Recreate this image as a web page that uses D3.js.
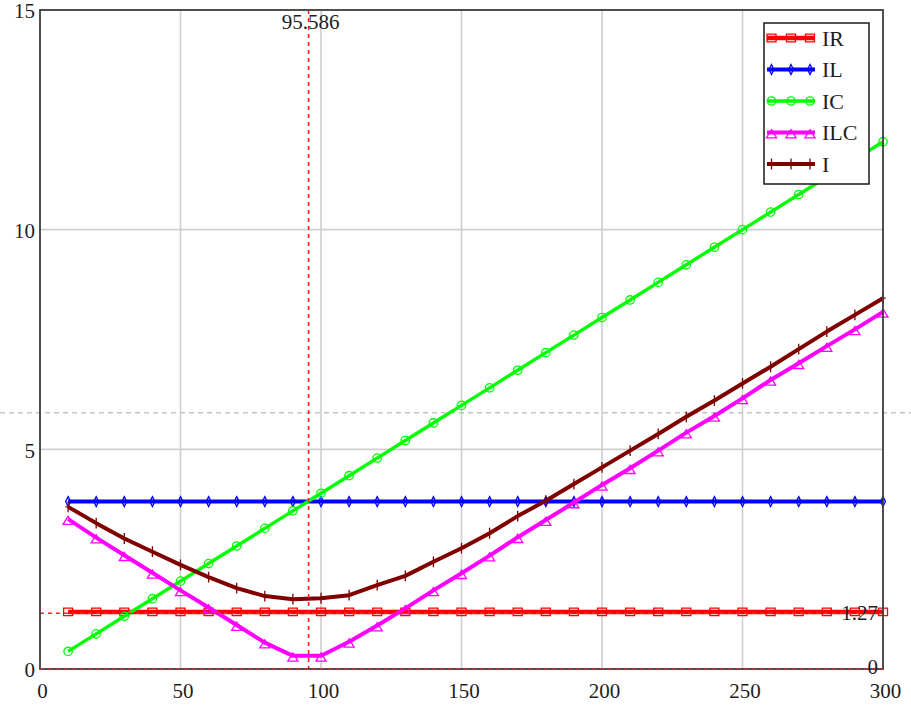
<!DOCTYPE html>
<html>
<head>
<meta charset="utf-8">
<script src="https://cdn.jsdelivr.net/npm/d3@7/dist/d3.min.js"></script>
<style>
  html, body { margin: 0; padding: 0; background: #fff; }
  svg { display: block; }
  text { font-family: "Liberation Serif", "Times New Roman", serif; fill: #1e1e1e; }
</style>
</head>
<body>
<svg id="chart" width="911" height="710"></svg>
<script>
// ---- data ----
const xValues = [10,20,30,40,50,60,70,80,90,100,110,120,130,140,150,160,170,180,190,200,210,220,230,240,250,260,270,280,290,300];
const IR  = [1.3,1.3,1.3,1.3,1.3,1.3,1.3,1.3,1.3,1.3,1.3,1.3,1.3,1.3,1.3,1.3,1.3,1.3,1.3,1.3,1.3,1.3,1.3,1.3,1.3,1.3,1.3,1.3,1.3,1.3];
const IL  = [3.81,3.81,3.81,3.81,3.81,3.81,3.81,3.81,3.81,3.81,3.81,3.81,3.81,3.81,3.81,3.81,3.81,3.81,3.81,3.81,3.81,3.81,3.81,3.81,3.81,3.81,3.81,3.81,3.81,3.81];
const IC  = [0.4,0.8,1.2,1.6,2.0,2.4,2.8,3.2,3.6,4.0,4.4,4.8,5.2,5.6,6.0,6.4,6.8,7.2,7.6,8.0,8.4,8.8,9.2,9.6,10.0,10.4,10.8,11.2,11.6,12.0];
const ILC = [3.41,2.99,2.59,2.19,1.79,1.40,1.0,0.6,0.3,0.3,0.62,0.99,1.38,1.79,2.18,2.58,3.0,3.39,3.79,4.19,4.57,4.97,5.38,5.76,6.16,6.58,6.96,7.35,7.73,8.13];
const I   = [3.69,3.32,2.97,2.67,2.37,2.09,1.84,1.66,1.59,1.61,1.68,1.91,2.12,2.44,2.75,3.09,3.48,3.83,4.21,4.59,4.97,5.35,5.74,6.11,6.50,6.88,7.28,7.68,8.06,8.44];
const seriesNames = ["IR","IL","IC","ILC","I"];
const xTicks = [0,50,100,150,200,250,300];
const yTicks = [0,5,10,15];
const xGrid = [50,100,150,200,250];
const yGrid = [5,10];
const markerX = 95.586;
const markerY = [1.27, 0];
const dashedGrayY = 5.83;

// ---- styles ----
const styles = {
  IR:  {color:"#ff0000", width:4.5, marker:"square"},
  IL:  {color:"#0000ff", width:4,   marker:"diamond"},
  IC:  {color:"#00ff00", width:3.4, marker:"circle"},
  ILC: {color:"#ff00ff", width:4,   marker:"triangle"},
  I:   {color:"#800000", width:4,   marker:"plus"}
};
const seriesData = {IR, IL, IC, ILC, I};

const svg = d3.select("#chart");
const pLeft = 40, pRight = 883, pTop = 10, pBottom = 669;
const x = d3.scaleLinear().domain([0,300]).range([pLeft,pRight]);
const y = d3.scaleLinear().domain([0,15]).range([pBottom,pTop]);

// grid
svg.append("g").selectAll("line").data(xGrid).join("line")
  .attr("x1", d=>x(d)).attr("x2", d=>x(d)).attr("y1", pTop).attr("y2", pBottom)
  .attr("stroke","#cfcfcf").attr("stroke-width",1.6);
svg.append("g").selectAll("line").data(yGrid).join("line")
  .attr("x1", pLeft).attr("x2", pRight).attr("y1", d=>y(d)).attr("y2", d=>y(d))
  .attr("stroke","#cfcfcf").attr("stroke-width",1.6);

// gray dashed line across the window
svg.append("line").attr("x1",0).attr("x2",911)
  .attr("y1", y(dashedGrayY)).attr("y2", y(dashedGrayY))
  .attr("stroke","#c4c4c4").attr("stroke-width",1.5).attr("stroke-dasharray","5,4");

// marker path generator
function markerPath(type, s) {
  switch(type) {
    case "square": return `M${-s},${-s*0.85}h${2*s}v${1.7*s}h${-2*s}Z`;
    case "circle": return d3.symbol(d3.symbolCircle, Math.PI*s*s)();
    case "diamond": return `M0,${-s*1.1}L${s*0.55},0L0,${s*1.1}L${-s*0.55},0Z`;
    case "triangle": return `M0,${-s*0.6}L${s*1.05},${s*1.1}L${-s*1.05},${s*1.1}Z`;
    case "plus": return `M0,${-s*1.2}V${s*1.2}M${-s*0.6},0H${s*0.6}`;
  }
}
const markerSize = {square:4.5, circle:4.2, diamond:4.5, triangle:4.8, plus:4.5};

const line = d3.line().x(d=>x(d[0])).y(d=>y(d[1]));

const traces = svg.append("g");
seriesNames.forEach(name => {
  const st = styles[name];
  const pts = xValues.map((xv,i)=>[xv, seriesData[name][i]]);
  const g = traces.append("g");
  g.append("path").datum(pts).attr("d", line)
    .attr("fill","none").attr("stroke",st.color).attr("stroke-width",st.width)
    .attr("stroke-linejoin","round");
  g.selectAll("path.m").data(pts).join("path").attr("class","m")
    .attr("transform", d=>`translate(${x(d[0])},${y(d[1])})`)
    .attr("d", markerPath(st.marker, markerSize[st.marker]))
    .attr("fill","none").attr("stroke",st.color).attr("stroke-width",1.3);
});

// red dashed markers
svg.append("line").attr("x1", x(markerX)).attr("x2", x(markerX)).attr("y1", pTop).attr("y2", pBottom)
  .attr("stroke","#ff2020").attr("stroke-width",1.6).attr("stroke-dasharray","4,4");
svg.append("g").selectAll("line").data(markerY).join("line")
  .attr("x1", pLeft).attr("x2", pRight).attr("y1", d=>y(d)).attr("y2", d=>y(d))
  .attr("stroke","#ff2020").attr("stroke-width",1.6).attr("stroke-dasharray","4,4");

// frame
svg.append("rect").attr("x",pLeft).attr("y",pTop).attr("width",pRight-pLeft).attr("height",pBottom-pTop)
  .attr("fill","none").attr("stroke","#3c3c3c").attr("stroke-width",1.8);
// dashed red on bottom axis
svg.append("line").attr("x1", pLeft).attr("x2", pRight).attr("y1", y(0)).attr("y2", y(0))
  .attr("stroke","#ff3030").attr("stroke-width",1.2).attr("stroke-dasharray","4,4");

// marker labels
svg.append("text").attr("x", x(markerX)+2).attr("y", pTop+19).attr("text-anchor","middle")
  .attr("font-size",21).text(markerX.toString());
svg.append("g").selectAll("text").data(markerY).join("text")
  .attr("x", pRight-5).attr("y", d=> d===0 ? y(d)+5 : y(d)+7).attr("text-anchor","end")
  .attr("font-size",21).text(d=>d.toString());

// axes (labels only)
const xAxis = svg.append("g").attr("transform",`translate(2,${pBottom})`)
  .call(d3.axisBottom(x).tickValues(xTicks).tickSize(0).tickPadding(14).tickFormat(d3.format("d")));
xAxis.select(".domain").remove();
xAxis.selectAll("text").attr("font-size",21).attr("fill","#1e1e1e")
  .style("font-family",'"Liberation Serif", serif');

const yAxis = svg.append("g").attr("transform",`translate(${pLeft-5},1)`)
  .call(d3.axisLeft(y).tickValues(yTicks).tickSize(0).tickPadding(0).tickFormat(d3.format("d")));
yAxis.select(".domain").remove();
yAxis.selectAll("text").attr("font-size",21).attr("fill","#1e1e1e")
  .style("font-family",'"Liberation Serif", serif');

// legend
const lg = svg.append("g");
lg.append("rect").attr("x",764).attr("y",23).attr("width",105).attr("height",161)
  .attr("fill","#fff").attr("stroke","#1a1a1a").attr("stroke-width",1.5);
const rowY = d3.scalePoint().domain(seriesNames).range([38,164]);
seriesNames.forEach(name => {
  const st = styles[name];
  const yy = rowY(name);
  lg.append("line").attr("x1",767).attr("x2",815).attr("y1",yy).attr("y2",yy)
    .attr("stroke",st.color).attr("stroke-width",st.width);
  [771.5, 791, 810].forEach(mx => {
    lg.append("path").attr("transform",`translate(${mx},${yy})`)
      .attr("d", markerPath(st.marker, markerSize[st.marker]))
      .attr("fill","none").attr("stroke",st.color).attr("stroke-width",1.3);
  });
  lg.append("text").attr("x",822).attr("y",yy+7.5).attr("font-size",22).text(name);
});
</script>
</body>
</html>
